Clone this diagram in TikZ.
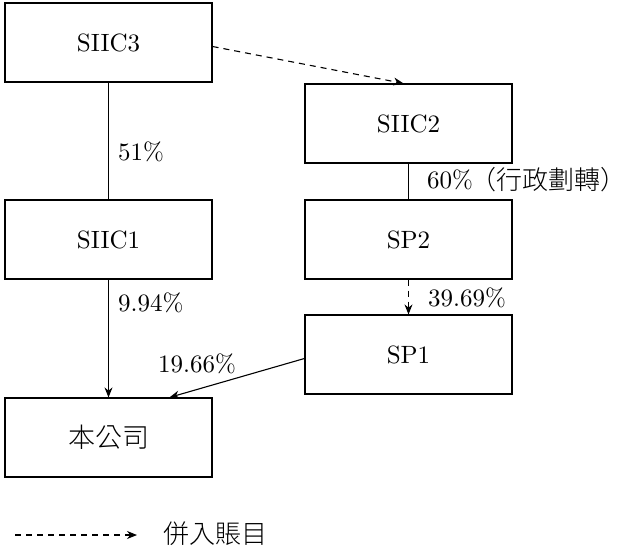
\documentclass[tikz,border=0pt]{standalone}
\usepackage{fontspec}
\setmainfont{lmroman10-regular}[Extension=.otf]
\newfontfamily\cjk{Noto Sans CJK TC Light}
\usetikzlibrary{arrows.meta}
\begin{document}
\begin{tikzpicture}[x=1pt,y=-1pt,
  box/.style={draw, line width=1.2pt, minimum width=207pt, minimum height=79pt, inner sep=0pt,
    font=\fontsize{25}{30}\selectfont},
  lbl/.style={anchor=west, inner sep=0pt, font=\fontsize{25}{30}\selectfont},
  cjklbl/.style={inner sep=0pt, font=\cjk\fontsize{26}{30}\selectfont},
  conn/.style={line width=1.1pt},
  arr/.style={line width=1.1pt, -{Stealth[length=10pt,width=8pt]}},
  dsh/.style={dash pattern=on 6pt off 5pt}]
\useasboundingbox (0,0) rectangle (627,550);
\node[box] (s3) at (108.5,42.5) {SIIC3};
\node[box] (s2) at (408.5,123.5) {SIIC2};
\node[box] (s1) at (108.5,239.5) {SIIC1};
\node[box] (sp2) at (408.5,239.5) {SP2};
\node[box] (sp1) at (408.5,354.5) {SP1};
\node[box] (gs) at (108.5,437.5) {\cjk\fontsize{27}{32}\selectfont 本公司};
\draw[conn] (s3.south) -- (s1.north);
\draw[conn] (s2.south) -- (sp2.north);
\draw[arr] (s1.south) -- (gs.north);
\draw[arr,dsh] (sp2.south) -- (sp1.north);
\draw[arr] ([yshift=-4pt]sp1.west) -- ([xshift=61pt]gs.north);
\draw[arr,dsh] ([yshift=-4pt]s3.east) -- ([xshift=-5pt]s2.north);
\node[lbl] (l51) at (118,152) {51\%};
\node[lbl] (l60) at (427,180) {60\%};
\node[cjklbl, anchor=east] (lxz) at (627,180) {（行政劃轉）};
\node[lbl] (l994) at (118,303) {9.94\%};
\node[lbl] (l3969) at (428,298) {39.69\%};
\node[lbl] (l1966) at (158,364) {19.66\%};
\coordinate (la) at (15,535);
\coordinate (lb) at (137,535);
\draw[arr,dsh] (la) -- (lb);
\node[cjklbl, anchor=west] (leg) at (163,534) {併入賬目};
\end{tikzpicture}
\end{document}
